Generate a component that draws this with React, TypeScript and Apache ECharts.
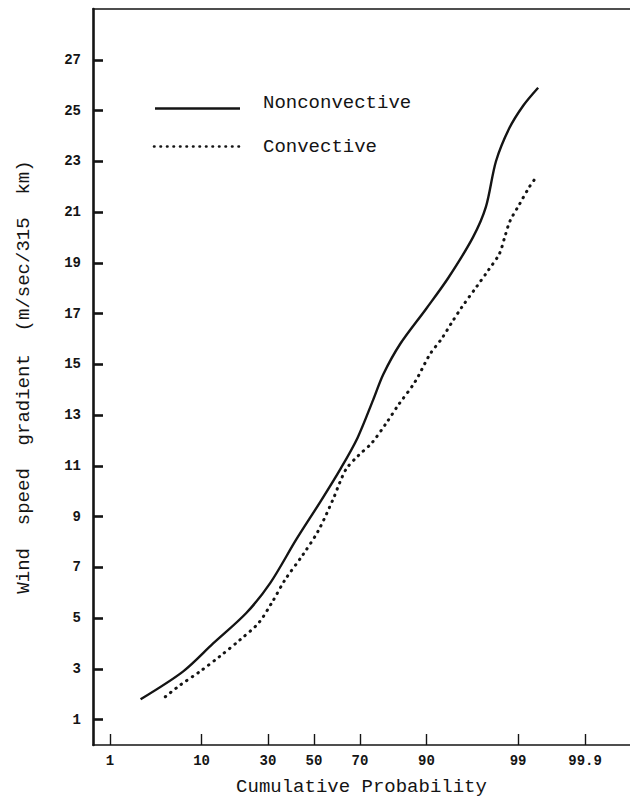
import React, { useEffect, useRef } from "react";
import * as echarts from "echarts";

// Probability-axis tick positions (percent) and their printed labels
const PROB_TICKS = [1, 10, 30, 50, 70, 90, 99, 99.9];
const PROB_TICK_LABELS = ["1", "10", "30", "50", "70", "90", "99", "99.9"];

// Wind speed gradient tick values
const SPEED_TICKS = [1, 3, 5, 7, 9, 11, 13, 15, 17, 19, 21, 23, 25, 27];

// Nonconvective: cumulative probability (%) vs gradient (m/sec/315 km)
const NONCONV_PROB = [2.4, 6.8, 12.5, 22, 31, 42, 53, 62, 69, 75, 78.5, 83.7, 90, 93.7, 96.5, 97.5, 98.1, 98.7, 99.15, 99.47];
const NONCONV_SPEED = [1.8, 2.9, 4.0, 5.2, 6.4, 8.1, 9.6, 10.9, 12.1, 13.6, 14.6, 15.8, 17.2, 18.4, 20.0, 21.2, 23.0, 24.3, 25.2, 25.9];

// Convective
const CONV_PROB = [4.5, 6.3, 9.7, 14.2, 20, 26.3, 31.5, 37, 45, 52, 58.7, 61.6, 64.5, 69.3, 74.5, 79.6, 83.2, 87.5, 90.7, 92.7, 94.2, 95.4, 96.8, 97.65, 98.27, 98.53, 98.73, 99.04, 99.3, 99.41];
const CONV_SPEED = [1.9, 2.35, 2.9, 3.5, 4.15, 4.8, 5.6, 6.5, 7.5, 8.45, 9.7, 10.35, 10.9, 11.4, 11.9, 12.7, 13.4, 14.3, 15.4, 16.0, 16.65, 17.25, 18.05, 18.7, 19.35, 20.05, 20.65, 21.3, 22.0, 22.3];

const FONT = "'Liberation Mono', 'DejaVu Sans Mono', monospace";
const INK = "#141414";

// Inverse of the standard normal CDF (Acklam's rational approximation),
// used to place probabilities on a normal-probability axis.
function normInv(p: number): number {
  const a = [-3.969683028665376e1, 2.209460984245205e2, -2.759285104469687e2, 1.38357751867269e2, -3.066479806614716e1, 2.506628277459239];
  const b = [-5.447609879822406e1, 1.615858368580409e2, -1.556989798598866e2, 6.680131188771972e1, -1.328068155288572e1];
  const c = [-7.784894002430293e-3, -3.223964580411365e-1, -2.400758277161838, -2.549732539343734, 4.374664141464968, 2.938163982698783];
  const d = [7.784695709041462e-3, 3.224671290700398e-1, 2.445134137142996, 3.754408661907416];
  const pl = 0.02425;
  if (p < pl) {
    const q = Math.sqrt(-2 * Math.log(p));
    return (((((c[0] * q + c[1]) * q + c[2]) * q + c[3]) * q + c[4]) * q + c[5]) / ((((d[0] * q + d[1]) * q + d[2]) * q + d[3]) * q + 1);
  }
  if (p <= 1 - pl) {
    const q = p - 0.5;
    const r = q * q;
    return ((((((a[0] * r + a[1]) * r + a[2]) * r + a[3]) * r + a[4]) * r + a[5]) * q) / (((((b[0] * r + b[1]) * r + b[2]) * r + b[3]) * r + b[4]) * r + 1);
  }
  const q = Math.sqrt(-2 * Math.log(1 - p));
  return -(((((c[0] * q + c[1]) * q + c[2]) * q + c[3]) * q + c[4]) * q + c[5]) / ((((d[0] * q + d[1]) * q + d[2]) * q + d[3]) * q + 1);
}

const toZ = (percent: number) => normInv(percent / 100);

export default function App() {
  const ref = useRef<HTMLDivElement>(null);

  useEffect(() => {
    if (!ref.current) return;
    const chart = echarts.init(ref.current, null, { renderer: "svg" });

    const tickZ = PROB_TICKS.map(toZ);
    const probLabel = (v: number) => {
      const i = tickZ.findIndex((z) => Math.abs(z - v) < 1e-6);
      return i >= 0 ? PROB_TICK_LABELS[i] : "";
    };

    const nonconv = NONCONV_PROB.map((p, i) => [toZ(p), NONCONV_SPEED[i]]);
    const conv = CONV_PROB.map((p, i) => [toZ(p), CONV_SPEED[i]]);

    chart.setOption({
      animation: false,
      backgroundColor: "#ffffff",
      grid: { left: 93, right: 0, top: 9, bottom: 54 },
      xAxis: [
        {
          type: "value",
          min: -2.52,
          max: 3.603,
          name: "Cumulative Probability",
          nameLocation: "middle",
          nameGap: 32,
          nameTextStyle: { fontFamily: FONT, fontSize: 19, color: INK },
          axisLine: { show: true, onZero: false, lineStyle: { color: INK, width: 1.6 } },
          axisTick: {
            show: true,
            inside: true,
            length: 11,
            customValues: tickZ,
            lineStyle: { color: INK, width: 1.4 },
          },
          axisLabel: {
            customValues: tickZ,
            formatter: probLabel,
            margin: 9,
            fontFamily: FONT,
            fontSize: 14,
            fontWeight: "bold",
            color: INK,
          },
          splitLine: { show: false },
        },
        {
          type: "value",
          position: "top",
          min: -2.52,
          max: 3.603,
          axisLine: { show: true, onZero: false, lineStyle: { color: INK, width: 1.6 } },
          axisTick: { show: false },
          axisLabel: { show: false },
          splitLine: { show: false },
        },
      ],
      yAxis: {
        type: "value",
        min: 0,
        max: 29,
        name: "Wind  speed  gradient  (m/sec/315  km)",
        nameLocation: "middle",
        nameGap: 60,
        nameTextStyle: { fontFamily: FONT, fontSize: 19, color: INK },
        axisLine: { show: true, onZero: false, lineStyle: { color: INK, width: 2.6 } },
        axisTick: {
          show: true,
          inside: true,
          length: 10,
          customValues: SPEED_TICKS,
          lineStyle: { color: INK, width: 2.6 },
        },
        axisLabel: {
          customValues: SPEED_TICKS,
          margin: 12,
          fontFamily: FONT,
          fontSize: 14,
          fontWeight: "bold",
          color: INK,
        },
        splitLine: { show: false },
      },
      series: [
        {
          name: "Nonconvective",
          type: "line",
          data: nonconv,
          smooth: 0.3,
          showSymbol: false,
          lineStyle: { color: INK, width: 2.4 },
        },
        {
          name: "Convective",
          type: "line",
          data: conv,
          smooth: 0.3,
          showSymbol: false,
          lineStyle: { color: INK, width: 3, type: [0.5, 6.2], cap: "round" },
        },
      ],
      graphic: [
        {
          type: "line",
          shape: { x1: 155, y1: 108.5, x2: 240, y2: 108.5 },
          style: { stroke: INK, lineWidth: 2.4 },
        },
        {
          type: "text",
          x: 263,
          y: 103,
          style: { text: "Nonconvective", fontFamily: FONT, fontSize: 19, fill: INK, verticalAlign: "middle" },
        },
        {
          type: "line",
          shape: { x1: 154, y1: 146.5, x2: 240, y2: 146.5 },
          style: { stroke: INK, lineWidth: 2.6, lineDash: [0.5, 6], lineCap: "round" },
        },
        {
          type: "text",
          x: 263,
          y: 147,
          style: { text: "Convective", fontFamily: FONT, fontSize: 19, fill: INK, verticalAlign: "middle" },
        },
      ],
    });

    return () => chart.dispose();
  }, []);

  return (
    <div
      ref={ref}
      style={{ position: "fixed", left: 0, top: 0, width: 630, height: 801, background: "#fff" }}
    />
  );
}
